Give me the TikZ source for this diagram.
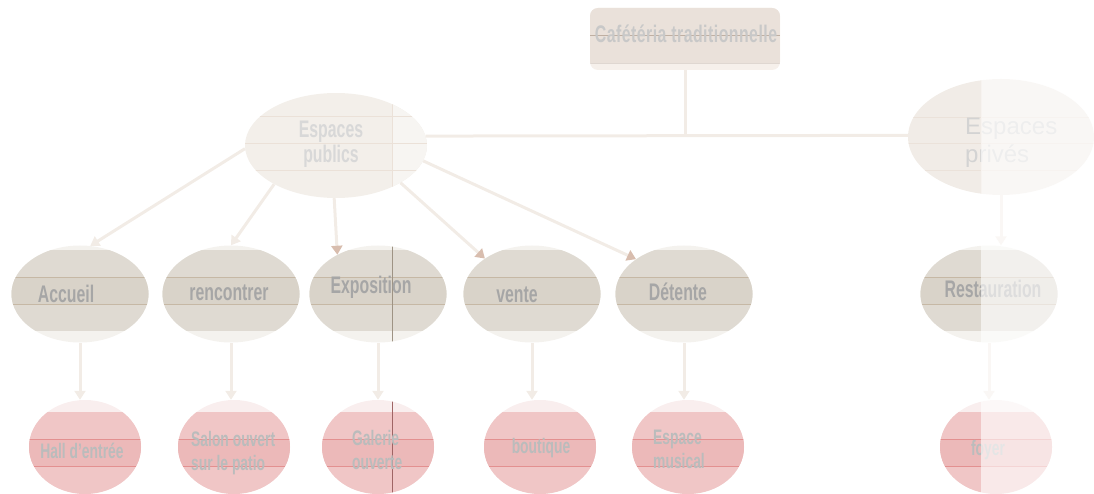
\documentclass[tikz,border=0pt]{standalone}
\usepackage{fontspec}
\setmainfont{Liberation Sans}[FakeStretch=0.66]
\newfontfamily\plainsans{Liberation Sans}
\usetikzlibrary{shapes.geometric,arrows.meta}
\definecolor{topmain}{HTML}{EAE1DA}
\definecolor{tophalo}{HTML}{F6F0EB}
\definecolor{topline}{HTML}{BFAFA2}
\definecolor{pubfill}{HTML}{F3EFEA}
\definecolor{pubright}{HTML}{F7F5F2}
\definecolor{publine}{HTML}{EBE1D8}
\definecolor{privfill}{HTML}{F1ECE7}
\definecolor{privline}{HTML}{EBE2DA}
\definecolor{midhalo}{HTML}{F4F2EE}
\definecolor{midmain}{HTML}{DFDAD2}
\definecolor{midband}{HTML}{D9D3C9}
\definecolor{midline}{HTML}{C6B8A5}
\definecolor{lowhalo}{HTML}{F9EEEE}
\definecolor{lowmain}{HTML}{F0C6C6}
\definecolor{lowband}{HTML}{ECB9B9}
\definecolor{lowline}{HTML}{E39090}
\definecolor{connc}{HTML}{F2ECE6}
\definecolor{headc}{HTML}{D8BDAE}
\definecolor{txttop}{HTML}{C8C8C8}
\definecolor{txtpub}{HTML}{D8D8D8}
\definecolor{txtpriv}{HTML}{D3D3D3}
\definecolor{txtmid}{HTML}{A6A6A6}
\definecolor{txtlow}{HTML}{BABCBC}
\begin{document}
\begin{tikzpicture}[x=1pt,y=-1pt,
  midell/.style={ellipse, inner sep=0pt, minimum width=137pt, minimum height=97pt, fill=midhalo},
  lowell/.style={ellipse, inner sep=0pt, minimum width=112pt, minimum height=94pt, fill=lowhalo},
  conn/.style={draw=connc, line width=3pt},
  tip/.style={-{Triangle[length=9pt,width=11pt]}},
  tipdark/.style={-{Triangle[length=9pt,width=11pt,color=headc]}},
  tmid/.style={font=\bfseries\fontsize{24}{26}\selectfont, text=txtmid, inner sep=0pt, anchor=base},
  tlow/.style={font=\bfseries\fontsize{21}{24}\selectfont, text=txtlow, inner sep=0pt},
]
\useasboundingbox (0,0) rectangle (1094,494);

% top box
\node[rectangle, rounded corners=8pt, minimum width=190pt, minimum height=62pt, inner sep=0pt, fill=tophalo] (top) at (685,39) {};
\begin{scope}
  \clip[rounded corners=8pt] (590,8) rectangle (780,70);
  \fill[topmain] (590,0) rectangle (780,63);
  \draw[topline, line width=0.6pt] (590,35) -- (780,35);
  \draw[topline!50, line width=0.6pt] (590,63) -- (780,63);
\end{scope}
\node[font=\bfseries\fontsize{24}{26}\selectfont\addfontfeature{LetterSpace=2}, text=txttop, inner sep=0pt, anchor=base] (ttop) at (686,43) {Cafétéria traditionnelle};

% espaces publics
\node[ellipse, inner sep=0pt, minimum width=182pt, minimum height=105pt, fill=pubfill] (pub) at (336,145.5) {};
\begin{scope}
  \clip (336,145.5) ellipse [x radius=91pt, y radius=52.5pt];
  \fill[pubright] (392,90) rectangle (430,200);
  \draw[publine, line width=0.6pt] (240,116) -- (430,116) (240,143) -- (430,143) (240,170) -- (430,170) (392,90) -- (392,200);
\end{scope}
\node[font=\bfseries\fontsize{24}{25}\selectfont, text=txtpub, inner sep=0pt, align=center] (tpub) at (331,144) {Espaces\\publics};

% espaces prives
\node[ellipse, inner sep=0pt, minimum width=186pt, minimum height=116pt, fill=privfill] (priv) at (1001,137) {};
\begin{scope}
  \clip (1001,137) ellipse [x radius=93pt, y radius=58pt];
  \draw[privline, line width=0.6pt] (905,117) -- (1094,117) (905,143) -- (1094,143) (905,170) -- (1094,170) (981,75) -- (981,200);
\end{scope}
\node[font=\plainsans\fontsize{24}{28}\selectfont, text=txtpriv, inner sep=0pt, align=left, anchor=west] (tpriv) at (965,143) {Espaces\\privés};

% second row
\foreach \n/\cx in {acc/80, ren/231, exp/378, ven/532, det/684, res/989} {
  \node[midell] (\n) at (\cx,294) {};
  \begin{scope}
    \clip (\cx,294) ellipse [x radius=68.5pt, y radius=48.5pt];
    \fill[midmain] (\cx-70,250) rectangle (\cx+70,331);
    \fill[midband] (\cx-70,277) rectangle (\cx+70,304);
    \draw[midline, line width=0.7pt] (\cx-70,277) -- (\cx+70,277) (\cx-70,304) -- (\cx+70,304);
  \end{scope}
}
\begin{scope}
  \clip (378,294) ellipse [x radius=68.5pt, y radius=48.5pt];
  \draw[midline!80!black, line width=0.5pt] (392,240) -- (392,345);
\end{scope}

% third row
\foreach \n/\cx in {hall/85, sal/234, gal/378, bou/540, esp/688, foy/996} {
  \node[lowell] (\n) at (\cx,447) {};
  \begin{scope}
    \clip (\cx,447) ellipse [x radius=56pt, y radius=47pt];
    \fill[lowmain] (\cx-60,412) rectangle (\cx+60,494);
    \fill[lowband] (\cx-60,439) rectangle (\cx+60,466);
    \draw[lowline, line width=0.7pt] (\cx-60,439) -- (\cx+60,439) (\cx-60,466) -- (\cx+60,466);
  \end{scope}
}
\begin{scope}
  \clip (378,447) ellipse [x radius=56pt, y radius=47pt];
  \draw[lowline!70!black, line width=0.5pt] (392,395) -- (392,494);
\end{scope}

% labels second row
\node[tmid] (tacc) at (66,302) {Accueil};
\node[tmid] (tren) at (229,300) {rencontrer};
\node[tmid] (texp) at (371,293) {Exposition};
\node[tmid] (tven) at (517,302) {vente};
\node[tmid] (tdet) at (678,300) {Détente};
\node[tmid] (tres) at (993,297) {Restauration};

% labels third row
\node[tlow, anchor=base] (thall) at (82,458) {Hall d’entrée};
\node[tlow, align=left, anchor=west] (tsal) at (191,453) {Salon ouvert\\sur le patio};
\node[tlow, align=left, anchor=west] (tgal) at (352,450) {Galerie\\ouverte};
\node[tlow, anchor=base] (tbou) at (541,453) {boutique};
\node[tlow, align=left, anchor=west] (tesp) at (653,449) {Espace\\musical};
\node[tlow, anchor=base] (tfoy) at (988,455) {foyer};

% connectors
\draw[conn] (top.south) -- (top.south |- pub.6);
\draw[conn] (pub.6) -- (priv.179);
\draw[conn,tip] (pub.182) -- (acc.78);
\draw[conn,tip] (pub.212) -- (ren.north);
\draw[conn,tipdark] (pub.268) -- (exp.136);
\draw[conn,tipdark] (pub.330) -- (ven.143);
\draw[conn,tipdark] (pub.350) -- (det.144);
\draw[conn,tip] (priv.south) -- (priv.south |- res.north);
\draw[conn,tip] (acc.south) -- (acc.south |- hall.north);
\draw[conn,tip] (ren.south) -- (ren.south |- sal.north);
\draw[conn,tip] (exp.south) -- (exp.south |- gal.north);
\draw[conn,tip] (ven.south) -- (ven.south |- bou.north);
\draw[conn,tip] (det.south) -- (det.south |- esp.north);
\draw[conn,tip] (res.south) -- (res.south |- foy.north);

% pale right strip
\fill[white, opacity=0.62] (981,75) rectangle (1094,494);
\end{tikzpicture}
\end{document}
